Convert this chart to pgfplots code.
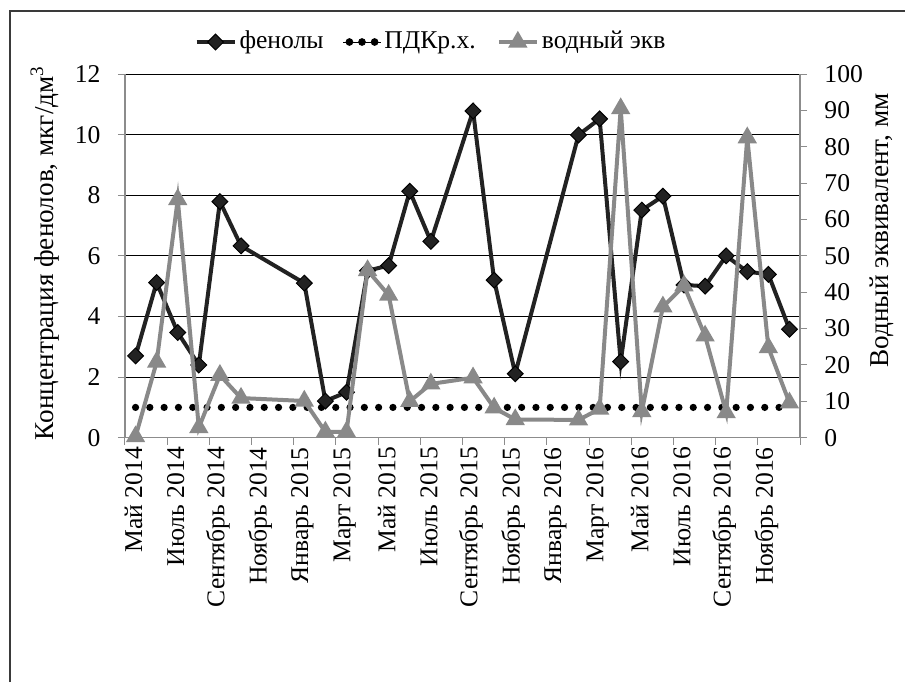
\documentclass[border=0pt]{standalone}
\usepackage{fontspec}
\setmainfont{Liberation Serif}
\usepackage{pgfplots}
\usepackage{pgfplotstable}
\pgfplotsset{compat=1.18}

\definecolor{phen}{HTML}{222222}
\definecolor{water}{HTML}{898989}
\definecolor{axisgray}{HTML}{8C8C8C}
\definecolor{framegray}{HTML}{3A3A3A}

\newcommand\tickfont{\fontsize{12.8}{15}\selectfont}
\newcommand\titlefont{\fontsize{13.6}{16}\selectfont}

% month index (0 = May 2014), phenols (mkg/dm3), water equivalent (mm)
\pgfplotstableread{
idx phen  water
0   2.70  0.3
1   5.12  20.8
2   3.47  65.5
3   2.40  2.8
4   7.79  17.2
5   6.33  10.9
8   5.10  10.1
9   1.21  1.6
10  1.50  1.6
11  5.51  46.0
12  5.68  39.2
13  8.13  10.0
14  6.48  14.8
16  10.78 16.5
17  5.20  8.2
18  2.11  5.0
21  9.99  4.9
22  10.52 7.9
23  2.51  90.5
24  7.51  7.2
25  7.97  36.0
26  5.04  41.8
27  5.00  28.0
28  6.00  6.9
29  5.48  82.5
30  5.39  24.8
31  3.58  9.6
}\datatable

\pgfplotsset{
  common/.style={
    scale only axis, width=337.5pt, height=181.85pt,
    at={(62.5pt,-218.85pt)}, anchor=south west,
    xmin=-0.5, xmax=31.5,
    tick align=outside, major tick length=3.5pt,
    tick style={draw=axisgray, line width=0.5pt},
    axis line style={draw=axisgray, line width=0.6pt, -},
    /pgf/number format/assume math mode=true,
  },
}

\begin{document}
\titlefont
\begin{tikzpicture}
\useasboundingbox (0,0) rectangle (452.5pt,-341pt);

% chart area border: left and top edges
\draw[framegray, line width=1.2pt] (5pt,-341pt) |- (452.5pt,-5.5pt);

\begin{axis}[
  common,
  ymin=0, ymax=12, ytick={0,2,...,12},
  axis y line*=left, axis x line*=bottom,
  ymajorgrids, grid style={black, line width=0.5pt},
  xtick={-0.5,1.5,...,31.5}, xticklabels={},
  extra x ticks={0,2,...,30},
  extra x tick labels={Май 2014,Июль 2014,Сентябрь 2014,Ноябрь 2014,Январь 2015,Март 2015,Май 2015,Июль 2015,Сентябрь 2015,Ноябрь 2015,Январь 2016,Март 2016,Май 2016,Июль 2016,Сентябрь 2016,Ноябрь 2016},
  extra x tick style={major tick length=0pt, grid=none},
  xticklabel style={font=\tickfont, rotate=90, anchor=east, yshift=1pt},
  yticklabel style={font=\tickfont, xshift=-4pt},
  ylabel={Концентрация фенолов, мкг/дм\textsuperscript{3}},
  every axis y label/.style={font=\titlefont, at={(axis description cs:-0.1185,0.508)}, rotate=90, anchor=center},
  legend image code/.code={\draw[mark repeat=2,mark phase=2,#1] plot coordinates {(0pt,0pt) (9.5pt,0pt) (19pt,0pt)};},
  legend style={at={(0.454,1.088)}, anchor=center, draw=none, fill=none,
    legend columns=3, font=\fontsize{12.8}{16}\selectfont,
    nodes={inner xsep=1.5pt},
    /tikz/column 2/.style={column sep=8pt},
    /tikz/column 4/.style={column sep=9pt}},
]
\addplot[phen, line width=2pt, mark=square*, mark size=2.8pt,
  mark options={rotate=45, fill=phen, draw=black, line width=0.5pt, solid}]
  table[x=idx, y=phen]{\datatable};
\addlegendentry{фенолы}
\addplot[black, line width=3.6pt, line cap=round, dash pattern=on 0pt off 7.15pt, forget plot]
  coordinates {(0,1) (31,1)};
\addlegendimage{legend image code/.code={\path (0pt,0pt) -- (19pt,0pt);
    \fill[black] (3.2pt,0pt) circle (1.7pt) (9.5pt,0pt) circle (1.7pt) (15.8pt,0pt) circle (1.7pt);}}
\addlegendentry{ПДКр.х.}
\addlegendimage{water, line width=2pt, mark=triangle*, mark size=3.6pt, mark options={fill=water, draw=water, solid}}
\addlegendentry{водный экв}
\end{axis}

\begin{axis}[
  common,
  ymin=0, ymax=100, ytick={0,10,...,100},
  axis y line*=right, axis x line=none,
  yticklabel style={font=\tickfont, xshift=4pt},
  ylabel={Водный эквивалент, мм},
  every axis y label/.style={font=\titlefont, at={(axis description cs:1.1215,0.57)}, rotate=90, anchor=center},
]
\addplot[water, line width=2pt, mark=triangle*, mark size=3.6pt,
  mark options={fill=water, draw=water, solid}]
  table[x=idx, y=water]{\datatable};
\end{axis}
\end{tikzpicture}
\end{document}
